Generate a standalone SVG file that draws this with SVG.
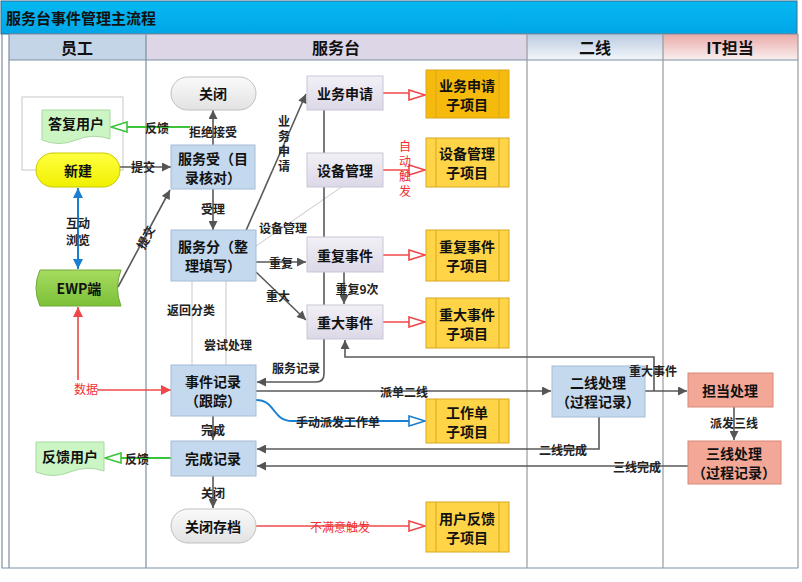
<svg xmlns="http://www.w3.org/2000/svg" width="802" height="582" viewBox="0 0 802 582">
<style>
.ln{stroke:#595959;stroke-width:1.6;fill:none}
.thin{stroke:#c9c9c9;stroke-width:1;fill:none}
.red{stroke:#f04848;stroke-width:1.6;fill:none}
.grn{stroke:#3cc43c;stroke-width:2;fill:none}
.blu{stroke:#1a7fd0;stroke-width:2;fill:none}
.lbl{font-family:"Noto Sans CJK SC","Liberation Sans",sans-serif;font-size:12px;font-weight:bold;fill:#222;text-anchor:middle;dominant-baseline:central}
.vl{font-family:"Noto Sans CJK SC","Liberation Sans",sans-serif;font-size:12px;font-weight:bold;fill:#222;text-anchor:middle;writing-mode:vertical-rl;letter-spacing:3px}
.vr{font-family:"Noto Sans CJK SC","Liberation Sans",sans-serif;font-size:12px;fill:#f03030;text-anchor:middle;writing-mode:vertical-rl;letter-spacing:3px}
.rlbl{font-family:"Noto Sans CJK SC","Liberation Sans",sans-serif;font-size:12px;fill:#f03030;text-anchor:middle;dominant-baseline:central}
.nt{font-family:"Noto Sans CJK SC","Liberation Sans",sans-serif;font-size:14px;font-weight:bold;fill:#111;text-anchor:middle;dominant-baseline:central}
.hd{font-family:"Noto Sans CJK SC","Liberation Sans",sans-serif;font-size:16px;font-weight:bold;fill:#111;text-anchor:middle;dominant-baseline:central}
.lav{fill:url(#gLav);stroke:#c9c5d8;stroke-width:1}
.lb{fill:#c5d9ee;stroke:#a3bcd6;stroke-width:1}
.gold{stroke:#d8a820;stroke-width:1}
.sal{fill:#f3a797;stroke:#d98a7a;stroke-width:1}
.gry{fill:url(#gGray);stroke:#c0c0c0;stroke-width:1}
.doc{fill:#ccf5c4;stroke:#a8d8a0;stroke-width:1}
.lane{stroke:#7d8fa3;stroke-width:1.2;fill:none}
.lane2{stroke:#9a9a9a;stroke-width:1.2;fill:none}
</style>
<defs>
<linearGradient id="gTitle" x1="0" y1="0" x2="0" y2="1"><stop offset="0" stop-color="#06b8f2"/><stop offset="1" stop-color="#00a6e6"/></linearGradient>
<linearGradient id="gLav" x1="0" y1="0" x2="0" y2="1"><stop offset="0" stop-color="#f2f0f6"/><stop offset="1" stop-color="#dcd8e8"/></linearGradient>
<linearGradient id="gGray" x1="0" y1="0" x2="0" y2="1"><stop offset="0" stop-color="#fafafa"/><stop offset="1" stop-color="#e2e2e2"/></linearGradient>
<linearGradient id="gYel" x1="0" y1="0" x2="0" y2="1"><stop offset="0" stop-color="#ffff40"/><stop offset="1" stop-color="#f0f000"/></linearGradient>
<linearGradient id="gGrn" x1="0" y1="0" x2="0" y2="1"><stop offset="0" stop-color="#a6dc60"/><stop offset="1" stop-color="#7cc038"/></linearGradient>
<linearGradient id="gH2" x1="0" y1="0" x2="0" y2="1"><stop offset="0" stop-color="#b9cbe0"/><stop offset="1" stop-color="#f4f6fa"/></linearGradient>
<linearGradient id="gH3" x1="0" y1="0" x2="0" y2="1"><stop offset="0" stop-color="#e8aaa8"/><stop offset="1" stop-color="#faf0f0"/></linearGradient>
<marker id="aG" viewBox="0 0 10 10" refX="10" refY="5" markerWidth="10" markerHeight="9" markerUnits="userSpaceOnUse" orient="auto"><path d="M0,0 L10,5 L0,10 z" fill="#555"/></marker>
<marker id="aR" viewBox="0 0 10 10" refX="10" refY="5" markerWidth="10" markerHeight="10" markerUnits="userSpaceOnUse" orient="auto"><path d="M0,0 L10,5 L0,10 z" fill="#f04848"/></marker>
<marker id="aB" viewBox="0 0 10 10" refX="10" refY="5" markerWidth="10" markerHeight="10" markerUnits="userSpaceOnUse" orient="auto-start-reverse"><path d="M0,0 L10,5 L0,10 z" fill="#1a7fd0"/></marker>
<marker id="hR" viewBox="0 0 18 12" refX="17" refY="6" markerWidth="18" markerHeight="12" markerUnits="userSpaceOnUse" orient="auto"><path d="M1,1 L17,6 L1,11 z" fill="#fff" stroke="#f04848" stroke-width="1.6"/></marker>
<marker id="hGn" viewBox="0 0 18 12" refX="17" refY="6" markerWidth="18" markerHeight="12" markerUnits="userSpaceOnUse" orient="auto"><path d="M1,1 L17,6 L1,11 z" fill="#fff" stroke="#3cc43c" stroke-width="1.6"/></marker>
<marker id="hB" viewBox="0 0 18 12" refX="17" refY="6" markerWidth="18" markerHeight="12" markerUnits="userSpaceOnUse" orient="auto"><path d="M1,1 L17,6 L1,11 z" fill="#fff" stroke="#1a7fd0" stroke-width="1.6"/></marker>
</defs>

<g id="frame">
<rect x="0" y="0" width="802" height="582" fill="#fff"/>
<rect x="1" y="1" width="796" height="33" fill="url(#gTitle)" stroke="#3d6c8c" stroke-width="1"/>
<text x="6" y="17" font-family="'Noto Sans CJK SC','Liberation Sans',sans-serif" font-size="15" font-weight="bold" fill="#111" dominant-baseline="central">服务台事件管理主流程</text>
<rect x="9" y="34" width="137" height="26" fill="#c5d5e8"/>
<rect x="146" y="34" width="381" height="26" fill="#ddd6e7"/>
<rect x="527" y="34" width="136" height="26" fill="url(#gH2)"/>
<rect x="663" y="34" width="135" height="26" fill="url(#gH3)"/>
<text class="hd" x="77" y="47">员工</text>
<text class="hd" x="336" y="47">服务台</text>
<text class="hd" x="595" y="47">二线</text>
<text class="hd" x="730" y="47">IT担当</text>
<path class="lane" d="M2,34 V568 H798 M9,34 V568 M9,34 H798 M9,60 H798 M146,34 V568"/>
<path class="lane2" d="M527,34 V568 M663,34 V568 M798,34 V568"/>
</g>

<g id="n-box"><rect x="22" y="97" width="101" height="73" fill="#fff" stroke="#c8c8c8" stroke-width="1"/></g>

<g id="connectors">
<path class="ln" d="M120,167 H171" marker-end="url(#aG)"/>
<path class="ln" d="M213,145 V110" marker-end="url(#aG)"/>
<path class="grn" d="M190,127 H111" marker-end="url(#hGn)"/>
<path class="ln" d="M213,189 V230" marker-end="url(#aG)"/>
<path class="ln" d="M118,287 L170,190" marker-end="url(#aG)"/>
<path class="blu" d="M78,188 V269" marker-start="url(#aB)" marker-end="url(#aB)"/>
<path class="red" d="M78,380 V307" marker-end="url(#aR)"/>
<path class="red" d="M97,390 H171" marker-end="url(#aR)"/>
<path class="ln" d="M241,242 L306,94" marker-end="url(#aG)"/>
<path class="thin" d="M256,246 L343,186"/>
<path class="ln" d="M256,262 H306" marker-end="url(#aG)"/>
<path class="ln" d="M256,272 L306,320" marker-end="url(#aG)"/>
<path class="ln" d="M344,272 V304" marker-end="url(#aG)"/>
<path class="ln" d="M324,110 V374 Q324,382 316,382 H257" marker-end="url(#aG)"/>
<path class="thin" d="M192,365 V281"/>
<path class="thin" d="M226,365 V281"/>
<path class="ln" d="M256,391 H551" marker-end="url(#aG)"/>
<path class="blu" d="M256,400 C276,400 272,421 292,421 H425" marker-end="url(#hB)"/>
<path class="ln" d="M599,417 V449 H257" marker-end="url(#aG)"/>
<path class="ln" d="M688,466 H257" marker-end="url(#aG)"/>
<path class="ln" d="M645,391 H687" marker-end="url(#aG)"/>
<path class="ln" d="M654,391 V357 H345 V340" marker-end="url(#aG)"/>
<path class="ln" d="M734,407 V440" marker-end="url(#aG)"/>
<path class="grn" d="M171,458 H105" marker-end="url(#hGn)"/>
<path class="ln" d="M213,416 V440" marker-end="url(#aG)"/>
<path class="ln" d="M213,476 V508" marker-end="url(#aG)"/>
<path class="red" d="M256,526 H425" marker-end="url(#hR)"/>
<path class="red" d="M383,93 H408 L410,95 H425" marker-end="url(#hR)"/>
<path class="red" d="M383,170 H425" marker-end="url(#hR)"/>
<path class="red" d="M383,255 H425" marker-end="url(#hR)"/>
<path class="red" d="M383,322 H425" marker-end="url(#hR)"/>
</g>

<g id="n-reply"><path class="doc" d="M42,110 H110 V139 Q93,133 76,140 Q59,147 42,140 Z"/><text class="nt" x="76" y="123">答复用户</text></g>
<g id="n-new"><rect x="36" y="153" width="84" height="34" rx="17" fill="url(#gYel)" stroke="#c8c800" stroke-width="1"/><text class="nt" x="78" y="170">新建</text></g>
<g id="n-ewp"><path d="M40,270 H121 Q114,288 121,306 H40 Q32,288 40,270 Z" fill="url(#gGrn)" stroke="#72a83a" stroke-width="1"/><text class="nt" x="79" y="288">EWP端</text></g>
<g id="n-fb"><path class="doc" d="M36,442 H104 V471 Q87,465 70,472 Q53,479 36,472 Z"/><text class="nt" x="70" y="456">反馈用户</text></g>

<g id="n-close"><rect class="gry" x="171" y="77" width="85" height="33" rx="16.5"/><text class="nt" x="213" y="93">关闭</text></g>
<g id="n-accept"><rect class="lb" x="171" y="145" width="84" height="44"/><text class="nt" x="213" y="157.5">服务受（目</text><text class="nt" x="213" y="176.5">录核对）</text></g>
<g id="n-classify"><rect class="lb" x="171" y="230" width="85" height="51"/><text class="nt" x="213" y="246">服务分（整</text><text class="nt" x="213" y="265">理填写）</text></g>
<g id="n-record"><rect class="lb" x="171" y="365" width="85" height="51"/><text class="nt" x="213" y="381">事件记录</text><text class="nt" x="213" y="400">（跟踪）</text></g>
<g id="n-done"><rect class="lb" x="171" y="441" width="85" height="35"/><text class="nt" x="213" y="458">完成记录</text></g>
<g id="n-archive"><rect class="gry" x="171" y="509" width="85" height="34" rx="17"/><text class="nt" x="213" y="526">关闭存档</text></g>

<g id="n-biz"><rect class="lav" x="307" y="76" width="76" height="34"/><text class="nt" x="345" y="93">业务申请</text></g>
<g id="n-dev"><rect class="lav" x="307" y="153" width="76" height="34"/><text class="nt" x="345" y="170">设备管理</text></g>
<g id="n-rep"><rect class="lav" x="307" y="237" width="76" height="35"/><text class="nt" x="345" y="255">重复事件</text></g>
<g id="n-maj"><rect class="lav" x="307" y="305" width="76" height="34"/><text class="nt" x="345" y="322">重大事件</text></g>

<g id="s-biz"><rect class="gold" x="426" y="70" width="83" height="48" fill="#f6ba0c"/><path class="gold" d="M436,70 V118 M499,70 V118"/><text class="nt" x="467" y="84.5">业务申请</text><text class="nt" x="467" y="103.5">子项目</text></g>
<g id="s-dev"><rect class="gold" x="426" y="138" width="83" height="49" fill="#ffd447"/><path class="gold" d="M436,138 V187 M499,138 V187"/><text class="nt" x="467" y="153">设备管理</text><text class="nt" x="467" y="172">子项目</text></g>
<g id="s-rep"><rect class="gold" x="426" y="230" width="83" height="51" fill="#ffd447"/><path class="gold" d="M436,230 V281 M499,230 V281"/><text class="nt" x="467" y="246">重复事件</text><text class="nt" x="467" y="265">子项目</text></g>
<g id="s-maj"><rect class="gold" x="426" y="298" width="83" height="50" fill="#ffd447"/><path class="gold" d="M436,298 V348 M499,298 V348"/><text class="nt" x="467" y="313.5">重大事件</text><text class="nt" x="467" y="332.5">子项目</text></g>
<g id="s-wo"><rect class="gold" x="426" y="399" width="83" height="44" fill="#ffd447"/><path class="gold" d="M436,399 V443 M499,399 V443"/><text class="nt" x="467" y="411.5">工作单</text><text class="nt" x="467" y="430.5">子项目</text></g>
<g id="s-fb"><rect class="gold" x="426" y="502" width="83" height="50" fill="#ffd447"/><path class="gold" d="M436,502 V552 M499,502 V552"/><text class="nt" x="467" y="517.5">用户反馈</text><text class="nt" x="467" y="536.5">子项目</text></g>

<g id="n-l2"><rect class="lb" x="552" y="366" width="93" height="51"/><text class="nt" x="598" y="382">二线处理</text><text class="nt" x="598" y="401">（过程记录）</text></g>
<g id="n-it"><rect class="sal" x="688" y="373" width="85" height="34"/><text class="nt" x="730" y="390">担当处理</text></g>
<g id="n-l3"><rect class="sal" x="688" y="441" width="93" height="43"/><text class="nt" x="734" y="453">三线处理</text><text class="nt" x="734" y="472">（过程记录）</text></g>

<g id="labels">
<text class="lbl" x="143" y="166">提交</text>
<text class="lbl" x="213" y="131">拒绝接受</text>
<text class="lbl" x="157" y="127">反馈</text>
<text class="lbl" x="213" y="208">受理</text>
<text class="lbl" x="145" y="237" transform="rotate(-62 145 237)">提交</text>
<text class="lbl" x="78" y="222">互动</text>
<text class="lbl" x="78" y="239">浏览</text>
<text class="rlbl" x="86" y="388">数据</text>
<text class="vl" x="284" y="145">业务申请</text>
<text class="lbl" x="283" y="227">设备管理</text>
<text class="lbl" x="281" y="262">重复</text>
<text class="lbl" x="278" y="295">重大</text>
<text class="lbl" x="357" y="288">重复9次</text>
<text class="lbl" x="296" y="367">服务记录</text>
<text class="lbl" x="191" y="309">返回分类</text>
<text class="lbl" x="228" y="344">尝试处理</text>
<text class="lbl" x="404" y="391">派单二线</text>
<text class="lbl" x="338" y="421">手动派发工作单</text>
<text class="lbl" x="563" y="449">二线完成</text>
<text class="lbl" x="637" y="466">三线完成</text>
<text class="lbl" x="653" y="370">重大事件</text>
<text class="lbl" x="734" y="422">派发三线</text>
<text class="lbl" x="137" y="458">反馈</text>
<text class="lbl" x="213" y="429">完成</text>
<text class="lbl" x="213" y="492">关闭</text>
<text class="rlbl" x="340" y="526">不满意触发</text>
<text class="vr" x="405" y="170">自动触发</text>
</g>
</svg>
